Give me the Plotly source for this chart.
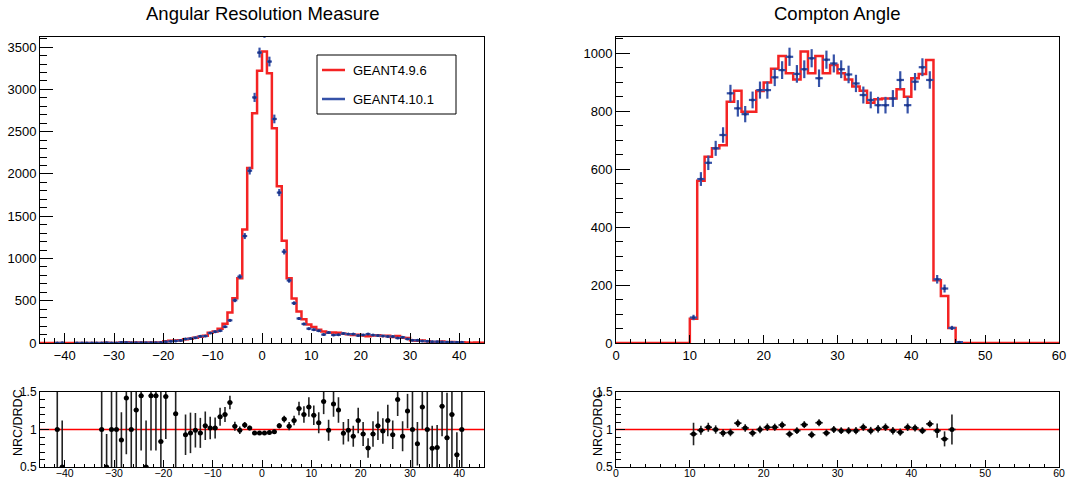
import numpy as np
import plotly.graph_objects as go

# ---------------- data ----------------
# Angular Resolution Measure: 90 bins of width 1 from -45 to 45
arm_edges = np.arange(-45, 46, 1)
arm_g496 = [1, 1, 0, 1, 1, 1, 1, 0, 0, 0,
            0, 0, 1, 2, 1, 1, 6, 10, 2, 5,
            6, 2, 6, 6, 5, 22, 26, 30, 33, 45,
            50, 62, 75, 86, 120, 137, 169, 228, 361, 530,
            766, 1343, 2069, 2717, 3219, 3447, 3192, 2540, 1853, 1209,
            766, 526, 373, 280, 220, 189, 157, 135, 122, 125,
            122, 108, 104, 96, 98, 90, 80, 88, 92, 82,
            86, 72, 82, 62, 60, 32, 26, 30, 22, 12,
            12, 17, 10, 12, 6, 8, 5, 4, 5, 4]
arm_g4101 = [0, 0, 0, 1, 2, 0, 0, 1, 1, 1,
             1, 1, 1, 4, 1, 1, 7, 7, 2, 4,
             4, 4, 4, 4, 6, 15, 20, 25, 30, 48,
             52, 63, 79, 82, 118, 134, 145, 192, 268, 505,
             785, 1265, 2038, 2905, 3435, 3670, 3329, 2650, 1779, 1080,
             740, 471, 290, 225, 170, 158, 145, 100, 123, 95,
             97, 113, 105, 105, 88, 96, 106, 94, 88, 84,
             77, 77, 59, 68, 48, 32, 32, 23, 22, 16,
             16, 13, 11, 10, 9, 8, 0, 0, 0, 0]

# ratio NRC/DRDC for the angular resolution measure
arm_ratio_x = [-41.5, -40.5, -32.5, -31.5, -30.5, -29.5, -28.5, -27.5, -26.5, -25.5,
               -24.5, -23.5, -22.5, -21.5, -20.5, -19.5, -17.5, -15.5, -14.5, -13.5,
               -12.5, -11.5, -10.5, -9.5, -8.5, -7.5, -6.5, -5.5, -4.5, -3.5,
               -2.5, -1.5, -0.5, 0.5, 1.5, 2.5, 3.5, 4.5, 5.5, 6.5,
               7.5, 8.5, 9.5, 10.5, 11.5, 12.5, 13.5, 14.5, 15.5, 16.5,
               17.5, 18.5, 19.5, 20.5, 21.5, 22.5, 23.5, 24.5, 25.5, 26.5,
               27.5, 28.5, 29.5, 30.5, 31.5, 32.5, 33.5, 34.5, 35.5, 36.5,
               37.5, 38.5, 39.5, 40.5]
arm_ratio = [1.0, 0.5, 1.0, 0.5, 1.0, 1.0, 0.86, 1.42, 1.0, 1.26,
             1.45, 0.5, 1.45, 1.45, 0.84, 1.44, 1.21, 0.93, 0.955, 0.99,
             0.955, 1.05, 1.02, 1.02, 1.17, 1.2, 1.36, 1.045, 0.99, 1.06,
             1.02, 0.955, 0.955, 0.955, 0.96, 0.97, 1.05, 1.14, 1.045, 1.12,
             1.28, 1.2, 1.3, 1.19, 1.09, 1.375, 0.99, 1.34, 1.26, 0.95,
             0.99, 0.91, 1.12, 0.94, 0.755, 0.94, 1.05, 0.98, 1.12, 0.93,
             1.4, 0.91, 1.245, 1.0, 0.81, 1.3, 1.0, 0.75, 0.76, 1.31,
             0.89, 1.2, 0.665, 1.0]
arm_ratio_err = [1.41, 0.62, 1.41, 0.44, 1.41, 1.41, 0.37, 0.75, 1.41, 0.8,
                 0.73, 0.62, 0.73, 0.73, 0.7, 0.565, 0.75, 0.27, 0.27, 0.23,
                 0.2, 0.19, 0.15, 0.14, 0.12, 0.1, 0.09, 0.06, 0.05, 0.04,
                 0.03, 0.025, 0.022, 0.022, 0.024, 0.027, 0.035, 0.045, 0.055, 0.065,
                 0.09, 0.11, 0.13, 0.13, 0.14, 0.17, 0.14, 0.17, 0.17, 0.15,
                 0.15, 0.14, 0.17, 0.16, 0.13, 0.17, 0.19, 0.17, 0.21, 0.19,
                 0.22, 0.2, 0.23, 0.5, 0.29, 0.3, 0.55, 0.3, 0.3, 0.4,
                 0.6, 0.7, 0.3, 0.6]

# Compton Angle: 60 bins of width 1 from 0 to 60
ca_edges = np.arange(0, 61, 1)
ca_g496 = [0, 0, 0, 0, 0, 0, 0, 0, 0, 0,
           84, 560, 643, 672, 683, 833, 871, 798, 798, 870,
           899, 947, 991, 931, 910, 1006, 931, 991, 931, 960,
           931, 910, 885, 871, 829, 841, 844, 844, 876, 850,
           914, 929, 977, 217, 162, 52, 0, 0, 0, 0,
           0, 0, 0, 0, 0, 0, 0, 0, 0, 0]
ca_g4101 = [0, 0, 0, 0, 0, 0, 0, 0, 0, 0,
            88, 566, 622, 672, 718, 862, 810, 790, 839, 873,
            873, 917, 942, 988, 929, 945, 983, 914, 978, 965,
            945, 927, 896, 856, 839, 821, 821, 844, 908, 821,
            902, 952, 908, 220, 188, 52, 3, 0, 0, 0,
            0, 0, 0, 0, 0, 0, 0, 0, 0, 0]

ca_ratio_x = [10.5, 11.5, 12.5, 13.5, 14.5, 15.5, 16.5, 17.5, 18.5, 19.5,
              20.5, 21.5, 22.5, 23.5, 24.5, 25.5, 26.5, 27.5, 28.5, 29.5,
              30.5, 31.5, 32.5, 33.5, 34.5, 35.5, 36.5, 37.5, 38.5, 39.5,
              40.5, 41.5, 42.5, 43.5, 44.5, 45.5]
ca_ratio = [0.94, 0.99, 1.03, 1.0, 0.955, 0.96, 1.085, 1.02, 0.955, 1.0,
            1.03, 1.03, 1.06, 0.94, 0.985, 1.065, 0.93, 1.09, 0.955, 1.0,
            0.985, 0.985, 0.985, 1.03, 0.985, 1.01, 1.03, 0.985, 0.965, 1.03,
            1.02, 0.985, 1.075, 0.985, 0.875, 1.0]
ca_ratio_err = [0.15, 0.06, 0.06, 0.055, 0.05, 0.05, 0.05, 0.05, 0.05, 0.05,
                0.05, 0.048, 0.047, 0.046, 0.046, 0.046, 0.046, 0.047, 0.046, 0.046,
                0.046, 0.047, 0.048, 0.049, 0.05, 0.05, 0.05, 0.05, 0.048, 0.05,
                0.048, 0.046, 0.046, 0.095, 0.1, 0.2]

titles = ["Angular Resolution Measure", "Compton Angle"]
series_names = ["GEANT4.9.6", "GEANT4.10.1"]
ratio_title = "NRC/DRDC"

# ---------------- style ----------------
W, H = 1068, 480
RED = "#f42323"
BLUE = "#3552a8"
BLUE_DOT = "#1c3283"
FONT = "Liberation Sans, Arial, Helvetica, sans-serif"


def px(x):
    return x / W


def py(y):
    return 1 - y / H


def step_xy(edges, counts):
    counts = list(counts)
    return list(edges), counts + [counts[-1]]


def error_points(edges, counts):
    edges = np.asarray(edges, dtype=float)
    c = np.asarray(counts, dtype=float)
    centers = 0.5 * (edges[:-1] + edges[1:])
    half = 0.5 * np.diff(edges)
    m = c > 0
    return centers[m], c[m], half[m], np.sqrt(c[m])


fig = go.Figure()

panels = [
    (arm_edges, arm_g496, arm_g4101, "x", "y"),
    (ca_edges, ca_g496, ca_g4101, "x2", "y2"),
]
for edges, red_counts, blue_counts, xa, ya in panels:
    sx, sy = step_xy(edges, red_counts)
    fig.add_trace(go.Scatter(x=sx, y=sy, mode="lines", line=dict(color=RED, width=2.5, shape="hv"),
                             xaxis=xa, yaxis=ya, showlegend=False, hoverinfo="skip"))
    cx, cy, hx, ey = error_points(edges, blue_counts)
    fig.add_trace(go.Scatter(x=cx, y=cy, mode="markers",
                             marker=dict(color=BLUE_DOT, size=3),
                             error_x=dict(type="data", array=hx, color=BLUE, thickness=2.2, width=0),
                             error_y=dict(type="data", array=ey, color=BLUE, thickness=2.2, width=0),
                             xaxis=xa, yaxis=ya, showlegend=False, hoverinfo="skip"))

ratios = [
    (arm_edges, arm_ratio_x, arm_ratio, arm_ratio_err, "x3", "y3"),
    (ca_edges, ca_ratio_x, ca_ratio, ca_ratio_err, "x4", "y4"),
]
for edges, rx, rv, re, xa, ya in ratios:
    # unit reference line across the full axis range
    fig.add_trace(go.Scatter(x=[float(edges[0]), float(edges[-1])], y=[1.0, 1.0], mode="lines",
                             line=dict(color="#ff0000", width=1.6),
                             xaxis=xa, yaxis=ya, showlegend=False, hoverinfo="skip"))
    fig.add_trace(go.Scatter(x=rx, y=rv, mode="markers",
                             marker=dict(color="black", size=5),
                             error_x=dict(type="constant", value=0.5, color="#222222", thickness=1.6, width=0),
                             error_y=dict(type="data", array=re, color="#222222", thickness=1.6, width=0),
                             xaxis=xa, yaxis=ya, showlegend=False, hoverinfo="skip"))

# ---------------- axes ----------------


def axis(domain, rng, dtick, minor_dtick, ticklen, minor_len, anchor, tick0=0, fsize=13, **kw):
    d = dict(domain=domain, range=rng, dtick=dtick, tick0=tick0, ticks="inside",
             ticklen=ticklen, tickwidth=1, tickcolor="black",
             minor=dict(dtick=minor_dtick, tick0=tick0, ticks="inside", ticklen=minor_len,
                        tickwidth=1, tickcolor="black", showgrid=False),
             showline=True, linecolor="black", linewidth=1, mirror=True,
             showgrid=False, zeroline=False, anchor=anchor, automargin=False,
             tickfont=dict(family=FONT, size=fsize, color="black"))
    d.update(kw)
    return d


left_x = [px(40), px(484)]
right_x = [px(616), px(1059)]
main_y = [py(343), py(37)]
ratio_y = [py(467), py(392)]

arm_ymax = 1.05 * max(arm_g496)
ca_ymax = 1.05 * max(ca_g496)

fig.update_layout(
    xaxis=axis(left_x, [arm_edges[0], arm_edges[-1]], 10, 2, 10, 5, "y"),
    yaxis=axis(main_y, [0, arm_ymax], 500, 100, 13, 7, "x"),
    xaxis2=axis(right_x, [ca_edges[0], ca_edges[-1]], 10, 2, 8, 4, "y2"),
    yaxis2=axis(main_y, [0, ca_ymax], 200, 50, 14, 7, "x2"),
    xaxis3=axis(left_x, [arm_edges[0], arm_edges[-1]], 10, 2, 7, 3, "y3", fsize=10.5,
                ticklabelstandoff=-4),
    yaxis3=axis(ratio_y, [0.5, 1.5], 0.5, 0.1, 9, 5, "x3", tick0=0.5, fsize=12),
    xaxis4=axis(right_x, [ca_edges[0], ca_edges[-1]], 10, 2, 7, 3, "y4", fsize=10.5,
                ticklabelstandoff=-4),
    yaxis4=axis(ratio_y, [0.5, 1.5], 0.5, 0.1, 9, 5, "x4", tick0=0.5, fsize=12),
)

# legend box
shapes = [dict(type="rect", xref="paper", yref="paper",
               x0=px(317), x1=px(456), y0=py(114), y1=py(55),
               line=dict(color="black", width=1), fillcolor="white")]
legend_rows = [(series_names[0], RED, 70), (series_names[1], BLUE, 99)]
annotations = []
for name, col, yy in legend_rows:
    shapes.append(dict(type="line", xref="paper", yref="paper",
                       x0=px(322), x1=px(345), y0=py(yy), y1=py(yy),
                       line=dict(color=col, width=2.5)))
    annotations.append(dict(text=name, xref="paper", yref="paper", x=px(351), y=py(yy),
                            xanchor="left", yanchor="middle", showarrow=False,
                            font=dict(family=FONT, size=13, color="black")))

# titles
for t, cx in zip(titles, (262, 837)):
    annotations.append(dict(text=t, xref="paper", yref="paper", x=px(cx), y=py(13),
                            xanchor="center", yanchor="middle", showarrow=False,
                            font=dict(family=FONT, size=18.5, color="black")))

# ratio axis titles
for cx in (18, 598):
    annotations.append(dict(text=ratio_title, xref="paper", yref="paper", x=px(cx), y=py(423),
                            xanchor="center", yanchor="middle", showarrow=False, textangle=-90,
                            font=dict(family=FONT, size=12.5, color="black")))

fig.update_layout(
    width=W, height=H,
    margin=dict(l=0, r=0, t=0, b=0, autoexpand=False),
    paper_bgcolor="white", plot_bgcolor="white",
    font=dict(family=FONT, size=13, color="black"),
    shapes=shapes, annotations=annotations,
    showlegend=False,
)

fig.write_html("out.html")
